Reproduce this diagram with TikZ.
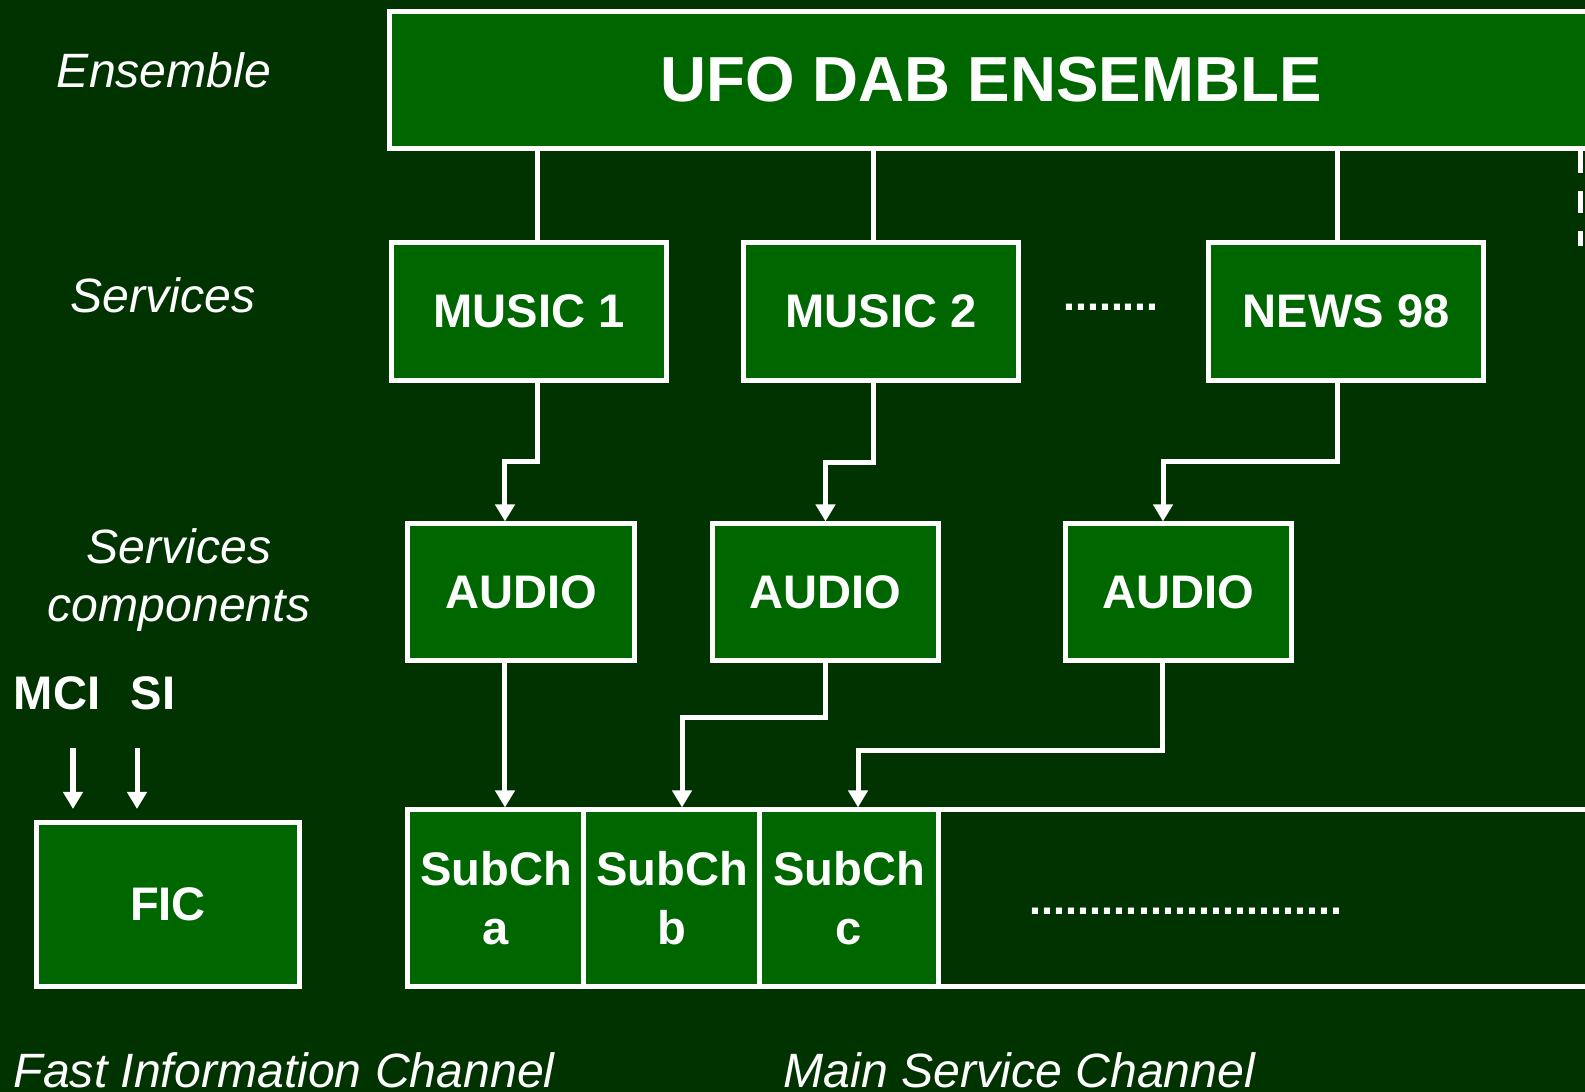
\documentclass[tikz,border=0pt]{standalone}
\usepackage{fontspec}
\setmainfont{Liberation Sans}
\usetikzlibrary{arrows.meta}
\definecolor{dabdark}{HTML}{003300}
\definecolor{dabgreen}{HTML}{006600}
\tikzset{
  dabbox/.style={draw=white, fill=dabgreen, line width=0.05cm, text=white, align=center, inner sep=0pt,
    font=\bfseries\fontsize{13.4}{16.8}\selectfont},
  sidetext/.style={text=white, align=center, inner sep=0pt, anchor=base,
    font=\itshape\fontsize{13.7}{16.5}\selectfont},
  link/.style={draw=white, line width=0.05cm},
  flow/.style={link, -{Triangle[width=0.19cm,length=0.17cm]}},
}
\begin{document}
\begin{tikzpicture}[x=0.01cm, y=-0.01cm]
\useasboundingbox (0,0) rectangle (1585,1092);
\fill[dabdark] (0,0) rectangle (1585,1092);
\node[dabbox, minimum width=12.02cm, minimum height=1.36cm, font=\bfseries\fontsize{18.1}{20}\selectfont] (ens) at (991,80) {UFO DAB ENSEMBLE};
\node[dabbox, minimum width=2.74cm, minimum height=1.37cm] (music1) at (529,311.5) {MUSIC 1};
\node[dabbox, minimum width=2.74cm, minimum height=1.37cm] (music2) at (881,311.5) {MUSIC 2};
\node[dabbox, minimum width=2.74cm, minimum height=1.37cm] (news98) at (1346,311.5) {NEWS 98};
\node[text=white, inner sep=0pt, font=\bfseries\fontsize{12.2}{14}\selectfont] (sdots) at (1111,307) {........};
\node[dabbox, minimum width=2.26cm, minimum height=1.36cm] (audio1) at (521,592) {AUDIO};
\node[dabbox, minimum width=2.26cm, minimum height=1.36cm] (audio2) at (825.5,592) {AUDIO};
\node[dabbox, minimum width=2.26cm, minimum height=1.36cm] (audio3) at (1178.5,592) {AUDIO};
\node[draw=white, line width=0.05cm, minimum width=11.92cm, minimum height=1.76cm, inner sep=0pt] (msc) at (1004,898) {};
\node[dabbox, minimum width=1.76cm, minimum height=1.76cm] (subcha) at (496,898) {SubCh\\a};
\node[dabbox, minimum width=1.76cm, minimum height=1.76cm] (subchb) at (672,898) {SubCh\\b};
\node[dabbox, minimum width=1.78cm, minimum height=1.76cm] (subchc) at (849,898) {SubCh\\c};
\node[text=white, inner sep=0pt, font=\bfseries\fontsize{12.3}{14}\selectfont] (mdots) at (1186,911) {..........................};
\node[dabbox, minimum width=2.62cm, minimum height=1.63cm] (fic) at (168,904.5) {FIC};
\node[sidetext] (ensl) at (164,88) {Ensemble};
\node[sidetext] (servl) at (163,313) {Services};
\node[sidetext] (compl) at (179,622) {Services\\components};
\node[sidetext, font=\bfseries\fontsize{13.4}{16}\selectfont] (mci) at (57,710) {MCI};
\node[sidetext, font=\bfseries\fontsize{13.4}{16}\selectfont] (si) at (153,710) {SI};
\node[sidetext, anchor=base west] (ficl) at (13,1087) {Fast Information Channel};
\node[sidetext, anchor=base west] (mscl) at (783,1087) {Main Service Channel};
\coordinate (mcia) at (73,748);
\coordinate (mcib) at (73,809);
\coordinate (sia) at (137,748);
\coordinate (sib) at (137,809);
\draw[link] ([xshift=0.08cm]music1.north) -- ([xshift=0.08cm]music1.north |- ens.south);
\draw[link] ([xshift=-0.08cm]music2.north) -- ([xshift=-0.08cm]music2.north |- ens.south);
\draw[link] ([xshift=-0.09cm]news98.north) -- ([xshift=-0.09cm]news98.north |- ens.south);
\draw[link, dash pattern=on 0.22cm off 0.18cm] ([xshift=-0.14cm]ens.south east) -- ++(0,95);
\draw[flow] ([xshift=0.08cm]music1.south) -- ++(0,79) -| ([xshift=-0.16cm]audio1.north);
\draw[flow] ([xshift=-0.08cm]music2.south) -- ++(0,80) -| (audio2.north);
\draw[flow] ([xshift=-0.09cm]news98.south) -- ++(0,79) -| ([xshift=-0.155cm]audio3.north);
\draw[flow] ([xshift=-0.16cm]audio1.south) -- ([xshift=-0.16cm]audio1.south |- subcha.north);
\draw[flow] (audio2.south) -- ++(0,55) -| ([xshift=0.1cm]subchb.north);
\draw[flow] ([xshift=-0.165cm]audio3.south) -- ++(0,88) -| ([xshift=0.09cm]subchc.north);
\draw[flow] (mcia) -- (mcib);
\draw[flow] (sia) -- (sib);
\end{tikzpicture}
\end{document}
